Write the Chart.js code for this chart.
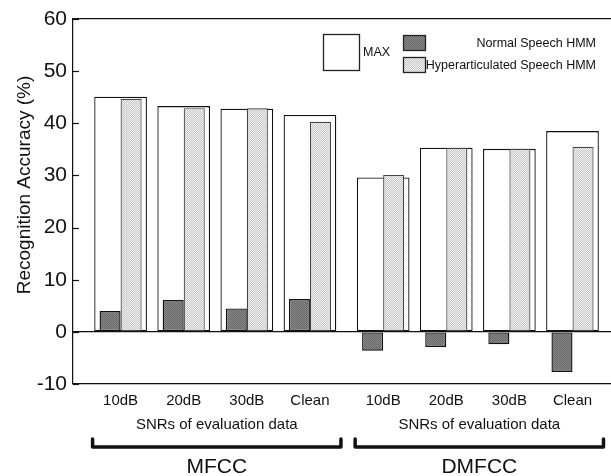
<!DOCTYPE html>
<html>
<head>
<meta charset="utf-8">
<script src="https://cdn.jsdelivr.net/npm/chart.js@4.4.1/dist/chart.umd.min.js"></script>
<style>
  html, body { margin: 0; padding: 0; background: #fff; }
  #wrap { width: 611px; height: 476px; }
</style>
</head>
<body>
<div id="wrap"><canvas id="accChart" width="611" height="476"></canvas></div>
<script>
// feature sets, each evaluated at four SNR conditions
const featureSets = ['MFCC', 'DMFCC'];
const snrLabels = ['10dB', '20dB', '30dB', 'Clean'];

// recognition accuracy (%), MFCC x4 then DMFCC x4
const maxAcc    = [45.1, 43.3, 42.8, 41.6, 29.6, 35.3, 35.1, 38.5];
const normalHmm = [4.0, 6.1, 4.5, 6.3, -3.6, -2.9, -2.4, -7.7];
const hyperHmm  = [44.7, 42.9, 42.9, 40.3, 30.1, 35.3, 35.1, 35.5];

const yTicks = [-10, 0, 10, 20, 30, 40, 50, 60];

// --- layout helpers ---
const FONT = '"Liberation Sans", Arial, Helvetica, sans-serif';
const GROUP_GAP = 0.16; // extra space between the two feature-set groups

const categories = [];
featureSets.forEach(function (g, gi) {
    snrLabels.forEach(function (s) { categories.push({ label: s, group: gi }); });
});
const xPos = categories.map(function (c, i) { return i + c.group * GROUP_GAP; });

function toPoints(values) {
    return values.map(function (v, i) { return { x: xPos[i], y: v }; });
}

// little checker textures like the printed figure
function checker(c1, c2) {
    const p = document.createElement('canvas');
    p.width = 2; p.height = 2;
    const g = p.getContext('2d');
    g.fillStyle = c2; g.fillRect(0, 0, 2, 2);
    g.fillStyle = c1; g.fillRect(0, 0, 1, 1); g.fillRect(1, 1, 1, 1);
    return g.createPattern(p, 'repeat');
}
const darkFill = checker('#666666', '#8a8a8a');
const lightFill = checker('#f2f2f2', '#c6c6c6');

// --- extra drawing: inner ticks, y title, legend, group brackets ---
const decorations = {
    id: 'decorations',
    afterDraw: function (chart) {
        const ctx = chart.ctx;
        const area = chart.chartArea;
        const xs = chart.scales.x;
        const ys = chart.scales.y;
        ctx.save();

        // inward tick marks on the left axis
        ctx.strokeStyle = '#111';
        ctx.lineWidth = 1.2;
        yTicks.forEach(function (t) {
            const y = Math.round(ys.getPixelForValue(t)) + 0.5;
            ctx.beginPath();
            ctx.moveTo(area.left, y);
            ctx.lineTo(area.left + 6, y);
            ctx.stroke();
        });

        // y axis title
        ctx.fillStyle = '#111';
        ctx.font = '19px ' + FONT;
        ctx.textAlign = 'center';
        ctx.textBaseline = 'middle';
        ctx.save();
        ctx.translate(25, 185);
        ctx.rotate(-Math.PI / 2);
        ctx.fillText('Recognition Accuracy (%)', 0, 0);
        ctx.restore();

        // legend
        ctx.lineWidth = 1.3;
        ctx.strokeStyle = '#222';
        ctx.fillStyle = '#fff';
        ctx.fillRect(323.5, 34.5, 36, 36);
        ctx.strokeRect(323.5, 34.5, 36, 36);
        ctx.fillStyle = darkFill;
        ctx.fillRect(403.5, 35.5, 22, 15);
        ctx.strokeRect(403.5, 35.5, 22, 15);
        ctx.fillStyle = lightFill;
        ctx.fillRect(403.5, 57.5, 22, 15);
        ctx.strokeRect(403.5, 57.5, 22, 15);

        ctx.fillStyle = '#111';
        ctx.font = '12.5px ' + FONT;
        ctx.textAlign = 'left';
        ctx.fillText('MAX', 363, 53);
        ctx.textAlign = 'right';
        ctx.fillText('Normal Speech HMM', 596, 44);
        ctx.fillText('Hyperarticulated Speech HMM', 596, 66);

        // group captions and brackets
        featureSets.forEach(function (g, gi) {
            const idx = [];
            categories.forEach(function (c, i) { if (c.group === gi) idx.push(i); });
            const left = xs.getPixelForValue(xPos[idx[0]]) - 28;
            const right = xs.getPixelForValue(xPos[idx[idx.length - 1]]) + 31;
            const mid = (left + right) / 2;

            ctx.fillStyle = '#111';
            ctx.textAlign = 'center';
            ctx.font = '15px ' + FONT;
            ctx.fillText('SNRs of evaluation data', mid, 425);

            ctx.strokeStyle = '#111';
            ctx.lineWidth = 3.5;
            ctx.lineJoin = 'round';
            ctx.lineCap = 'round';
            ctx.beginPath();
            ctx.moveTo(left, 439);
            ctx.lineTo(left, 447);
            ctx.lineTo(right, 447);
            ctx.lineTo(right, 439);
            ctx.stroke();

            ctx.font = '21px ' + FONT;
            ctx.fillText(g, mid, 467);
        });
        ctx.restore();
    }
};

new Chart(document.getElementById('accChart').getContext('2d'), {
    type: 'bar',
    data: {
        datasets: [{
            label: 'MAX',
            data: toPoints(maxAcc),
            backgroundColor: '#fff',
            borderColor: '#111',
            borderWidth: 1.3,
            borderSkipped: false,
            grouped: false,
            order: 1,
            categoryPercentage: 1,
            barPercentage: 0.835
        }, {
            label: 'Normal Speech HMM',
            data: toPoints(normalHmm),
            backgroundColor: darkFill,
            borderColor: '#111',
            borderWidth: 1.4,
            borderSkipped: false,
            categoryPercentage: 0.667,
            barPercentage: 1
        }, {
            label: 'Hyperarticulated Speech HMM',
            data: toPoints(hyperHmm),
            backgroundColor: lightFill,
            borderColor: '#444',
            borderWidth: 1.2,
            borderSkipped: false,
            categoryPercentage: 0.667,
            barPercentage: 1
        }]
    },
    options: {
        responsive: false,
        devicePixelRatio: 1,
        animation: false,
        events: [],
        layout: { padding: { top: 19, right: 0, left: 0, bottom: 0 } },
        plugins: {
            legend: { display: false },
            tooltip: { enabled: false }
        },
        scales: {
            x: {
                type: 'linear',
                offset: false,
                min: -0.754,
                max: 7.77,
                afterBuildTicks: function (scale) {
                    scale.ticks = xPos.map(function (v) { return { value: v }; });
                },
                afterFit: function (scale) { scale.height = 92; },
                grid: { display: false, drawTicks: false },
                border: { display: true, color: '#111', width: 1.2 },
                ticks: {
                    autoSkip: false,
                    maxRotation: 0,
                    padding: 8,
                    color: '#111',
                    font: { family: FONT, size: 15 },
                    callback: function (value, i) { return categories[i] ? categories[i].label : ''; }
                }
            },
            y: {
                min: -10,
                max: 60,
                afterBuildTicks: function (scale) {
                    scale.ticks = yTicks.map(function (v) { return { value: v }; });
                },
                afterFit: function (scale) { scale.width = 73; },
                grid: {
                    drawTicks: false,
                    color: function (c) {
                        return (c.tick && (c.tick.value === 0 || c.tick.value === 60)) ? '#111' : 'rgba(0,0,0,0)';
                    },
                    lineWidth: 1.2
                },
                border: { display: true, color: '#111', width: 1.2 },
                ticks: {
                    padding: 6,
                    color: '#111',
                    font: { family: FONT, size: 21 }
                }
            }
        }
    },
    plugins: [decorations]
});
</script>
</body>
</html>
